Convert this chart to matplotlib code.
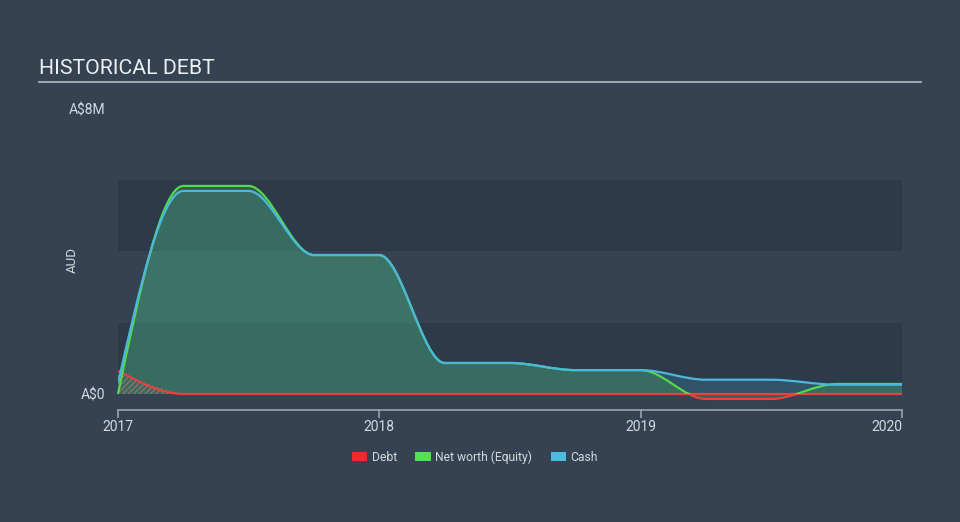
import matplotlib.pyplot as plt
import numpy as np
from matplotlib.path import Path
from matplotlib.patches import PathPatch, Patch, Rectangle
from matplotlib.lines import Line2D

# data (A$ millions), quarterly
quarters = [2017.0, 2017.25, 2017.5, 2017.75, 2018.0, 2018.25, 2018.5,
            2018.75, 2019.0, 2019.25, 2019.5, 2019.75, 2020.0]
debt = [0.65, 0, 0, 0, 0, 0, 0, 0, 0, 0, 0, 0, 0]
equity = [0.0, 5.84, 5.84, 3.9, 3.9, 0.87, 0.87, 0.67, 0.67, -0.14, -0.14, 0.28, 0.28]
cash = [0.3, 5.70, 5.70, 3.9, 3.9, 0.87, 0.87, 0.67, 0.67, 0.40, 0.40, 0.26, 0.26]
year_ticks = [2017, 2018, 2019, 2020]

BG = "#344252"
BAND = "#2d3a4a"
RED = "#e8413f"
GREEN = "#55d94a"
BLUE = "#4bb7dc"
TXT = "#d5d9de"
GRID = "#9aa3ad"

plt.rcParams["font.family"] = ["Roboto", "DejaVu Sans"]
plt.rcParams["hatch.linewidth"] = 0.6


def monotone_path(x, y, close=False):
    # monotone cubic (like d3 curveMonotoneX) as bezier segments
    x = np.asarray(x, float)
    y = np.asarray(y, float)
    h = np.diff(x)
    s = np.diff(y) / h
    m = np.zeros(len(x))
    for i in range(1, len(x) - 1):
        p = (s[i - 1] * h[i] + s[i] * h[i - 1]) / (h[i - 1] + h[i])
        m[i] = (np.sign(s[i - 1]) + np.sign(s[i])) * min(abs(s[i - 1]), abs(s[i]), 0.5 * abs(p))
    m[0] = (3 * s[0] - m[1]) / 2
    m[-1] = (3 * s[-1] - m[-2]) / 2
    verts = [(x[0], y[0])]
    codes = [Path.MOVETO]
    for i in range(len(x) - 1):
        d = h[i] / 3
        verts += [(x[i] + d, y[i] + m[i] * d), (x[i + 1] - d, y[i + 1] - m[i + 1] * d), (x[i + 1], y[i + 1])]
        codes += [Path.CURVE4] * 3
    if close:
        verts += [(x[-1], 0), (x[0], 0), (x[0], y[0])]
        codes += [Path.LINETO, Path.LINETO, Path.CLOSEPOLY]
    return Path(verts, codes)


fig = plt.figure(figsize=(9.6, 5.22), dpi=100, facecolor=BG)
ax = fig.add_axes([118 / 960, 112 / 522, 784 / 960, 301 / 522])
ax.set_facecolor(BG)
ax.set_xlim(2017, 2020)
ax.set_ylim(-0.45, 8)

# background bands
ax.axhspan(0, 2, color=BAND, zorder=0, lw=0)
ax.axhspan(4, 6, color=BAND, zorder=0, lw=0)

# area fills
ax.add_patch(PathPatch(monotone_path(quarters, cash, True), facecolor=BLUE, alpha=0.2, lw=0, zorder=1))
ax.add_patch(PathPatch(monotone_path(quarters, equity, True), facecolor=GREEN, alpha=0.2, lw=0, zorder=1))
ax.add_patch(PathPatch(monotone_path(quarters[:2], debt[:2], True), facecolor="none",
                       edgecolor="#c07070", hatch="//////", lw=0, zorder=2))

# lines
ax.add_patch(PathPatch(monotone_path(quarters, debt), facecolor="none", edgecolor=RED, lw=1.6, zorder=3))
pos_clip = Rectangle((2016, 0), 5, 20, transform=ax.transData)
neg_clip = Rectangle((2016, -20), 5, 20, transform=ax.transData)
eq_pos = ax.add_patch(PathPatch(monotone_path(quarters, equity), facecolor="none", edgecolor=GREEN, lw=1.6, zorder=4))
eq_pos.set_clip_path(pos_clip)
eq_neg = ax.add_patch(PathPatch(monotone_path(quarters, equity), facecolor="none", edgecolor=RED, lw=1.6, zorder=4))
eq_neg.set_clip_path(neg_clip)
ax.add_patch(PathPatch(monotone_path(quarters, cash), facecolor="none", edgecolor=BLUE, lw=1.6, zorder=5))

# axes styling
for side in ["top", "right", "left"]:
    ax.spines[side].set_visible(False)
ax.spines["bottom"].set_color(GRID)
ax.spines["bottom"].set_linewidth(1.2)
ax.set_xticks(year_ticks)
ax.set_xticklabels([str(t) for t in year_ticks])
ax.get_xticklabels()[-1].set_ha("right")
ax.tick_params(axis="x", colors=GRID, labelcolor=TXT, labelsize=10, length=6, width=1.2, pad=1)
ax.set_yticks([0, 8])
ax.set_yticklabels(["A$0", "A$8M"])
ax.tick_params(axis="y", length=0, labelcolor=TXT, labelsize=10, pad=9)
fig.text(72 / 960, 1 - 260 / 522, "AUD", color=TXT, fontsize=9.5, rotation=90, ha="center", va="center")

# title
fig.text(39 / 960, 1 - 69 / 522, "HISTORICAL DEBT", color="#eceff2", fontsize=15.3, va="center", ha="left")
fig.add_artist(Line2D([39 / 960, 921 / 960], [1 - 82 / 522] * 2, color="#aab1b9", lw=1.3))

# legend
handles = [Patch(facecolor="#ee2a2a", label="Debt"),
           Patch(facecolor="#55e04f", label="Net worth (Equity)"),
           Patch(facecolor="#4bbbe0", label="Cash")]
leg = fig.legend(handles=handles, loc="center", bbox_to_anchor=(475 / 960, 1 - 457 / 522), ncol=3,
                 frameon=False, fontsize=8.7, labelcolor=TXT, handlelength=1.25, handleheight=0.8,
                 handletextpad=0.4, columnspacing=1.5)

fig.savefig("out.png", dpi=100, facecolor=BG)
